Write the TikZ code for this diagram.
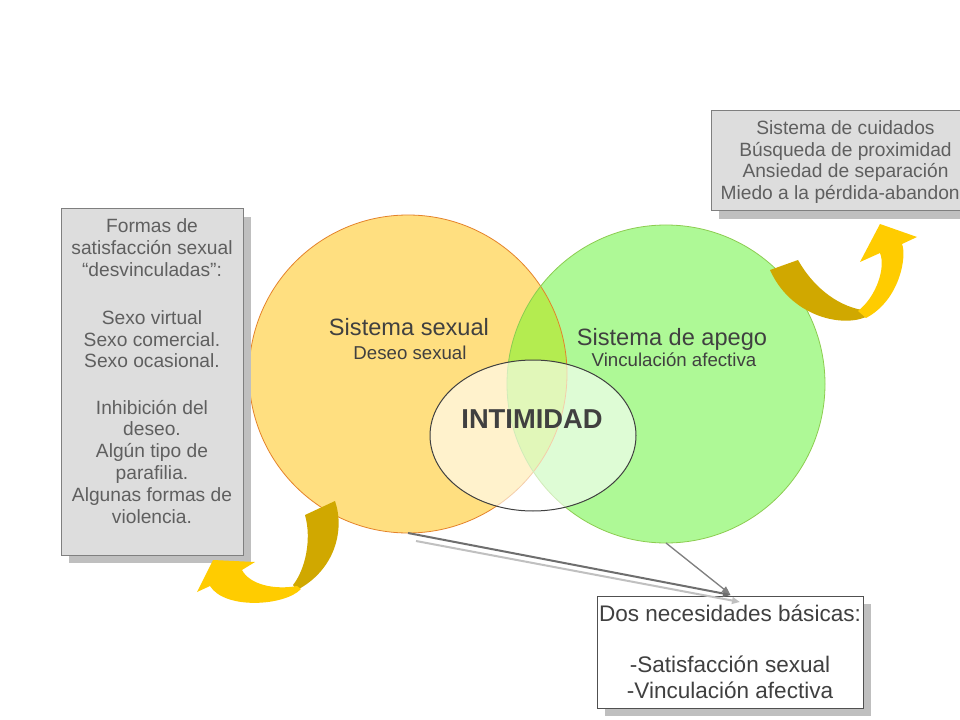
\documentclass[tikz,border=0pt]{standalone}
\usepackage{fontspec}
\setmainfont{Liberation Sans}
\usetikzlibrary{shapes.geometric,shadows,arrows.meta}
\definecolor{yel}{HTML}{FFDF80}
\definecolor{grn}{HTML}{AEF996}
\definecolor{lensc}{HTML}{B4EC50}
\definecolor{yeledge}{HTML}{E4822A}
\definecolor{grnedge}{HTML}{8CCC50}
\definecolor{elledge}{HTML}{404040}
\definecolor{txtdark}{HTML}{404040}
\definecolor{txtgray}{HTML}{5F5F5F}
\definecolor{boxfill}{HTML}{DDDDDD}
\definecolor{boxedge}{HTML}{7F7F7F}
\definecolor{boxdark}{HTML}{505050}
\definecolor{shadowc}{HTML}{BFBFBF}
\definecolor{linedark}{HTML}{6E6E6E}
\definecolor{linemid}{HTML}{808080}
\definecolor{linelight}{HTML}{C0C0C0}
\definecolor{golddark}{HTML}{D0A800}
\definecolor{goldc}{HTML}{FFCC00}
\begin{document}
\begin{tikzpicture}[x=0.75pt,y=-0.75pt,
  every node/.style={inner sep=0pt, outer sep=0pt},
  circ/.style={circle, minimum size=238.5pt, inner sep=0pt},
  lbl/.style={text=txtdark, font=\fontsize{17.7}{20}\selectfont},
  sublbl/.style={text=txtdark, font=\fontsize{14}{16}\selectfont},
  boxshadow/.style={drop shadow={shadow xshift=6pt, shadow yshift=-6pt, fill=shadowc, opacity=1}},
  graybox/.style={rectangle, draw=boxedge, fill=boxfill, line width=0.75pt, boxshadow},
  boxtext/.style={align=center, text=txtgray, font=\fontsize{14.4}{16.4}\selectfont},
  link/.style={line width=1.5pt, draw=linedark, -{Triangle[length=6pt,width=5pt]}},
  linkthin/.style={line width=1pt, draw=linemid, -{Triangle[length=6pt,width=5pt]}},
  linkshadow/.style={line width=1.5pt, draw=linelight, -{Triangle[length=6pt,width=5pt]}}
]
\useasboundingbox (0,0) rectangle (960,720);
\clip (0,0) rectangle (960,720);
\fill[white] (0,0) rectangle (960,720);

% circles
\node[circ, fill=yel] (sexual) at (408,374) {};
\node[circ, fill=grn] (apego) at (666,384) {};
\begin{scope}
  \clip (sexual.center) circle (159);
  \fill[lensc] (apego.center) circle (159);
\end{scope}
\draw[yeledge, line width=0.6pt] (sexual.center) circle (159);
\draw[grnedge, line width=0.6pt] (apego.center) circle (159);

% intimacy ellipse
\node[ellipse, minimum width=154.5pt, minimum height=113.25pt, fill=white,
      fill opacity=0.6, draw=elledge, draw opacity=1, line width=0.75pt] (intim) at (533,435.5) {};
\node[font=\bfseries\fontsize{20.5}{24}\selectfont, text=txtdark] (intimlbl) at (532,419) {INTIMIDAD};

% circle labels
\node[lbl] (sexT) at (409,327) {Sistema sexual};
\node[sublbl] (sexS) at (410,353) {Deseo sexual};
\node[lbl] (apeT) at (672,339.5) {Sistema de apego};
\node[sublbl] (apeS) at (674,360) {Vinculación afectiva};

% left box
\node[graybox, minimum width=136.5pt, minimum height=259.5pt] (lbox) at (152,382) {};
\node[boxtext] (ltext) at (152,371) {Formas de\\satisfacción sexual\\“desvinculadas”:\\[19.7pt]Sexo virtual\\Sexo comercial.\\Sexo ocasional.\\[18.2pt]Inhibición del\\deseo.\\Algún tipo de\\parafilia.\\Algunas formas de\\violencia.};

% top right box
\node[graybox, minimum width=201.75pt, minimum height=75pt] (tbox) at (845.5,161) {};
\node[boxtext] (ttext) at (845.5,162) {Sistema de cuidados\\Búsqueda de proximidad\\Ansiedad de separación\\Miedo a la pérdida-abandono};

% bottom box
\node[rectangle, draw=boxdark, fill=white, line width=0.75pt, boxshadow,
      minimum width=199.5pt, minimum height=84pt, align=center, text=txtdark,
      font=\fontsize{16.9}{19.1}\selectfont] (needs) at (730,652)
      {Dos necesidades básicas:\\[19.1pt]-Satisfacción sexual\\-Vinculación afectiva};

% connectors
\draw[linkshadow] ([shift={(8,8)}]sexual.south) -- ([shift={(10,6)}]needs.north);
\draw[link] (sexual.south) -- ([shift={(1,-1)}]needs.north);
\draw[linkthin] (apego.south) -- ([shift={(0,-2)}]needs.north);

% left curved arrow
\fill[golddark] (305,515) -- (335,501) .. controls (345,530) and (335,570) .. (297,590)
   -- (293,585) .. controls (305,570) and (312,540) .. (305,515) -- cycle;
\fill[goldc] (213,560) -- (255,562) -- (242,570) .. controls (250,585) and (275,590) .. (297,586)
   -- (301,589) .. controls (285,606) and (225,610) .. (210,586) -- (197,592) -- cycle;

% right curved arrow
\fill[golddark] (770,270) -- (798,260) .. controls (812,285) and (835,305) .. (862,310)
   -- (866,317) .. controls (840,328) and (790,315) .. (770,270) -- cycle;
\fill[goldc] (858,311) .. controls (876,297) and (886,268) .. (880,253) -- (860,262) -- (880,224)
   -- (917,237) -- (902,244) .. controls (907,256) and (900,300) .. (866,318) -- cycle;
\end{tikzpicture}
\end{document}
